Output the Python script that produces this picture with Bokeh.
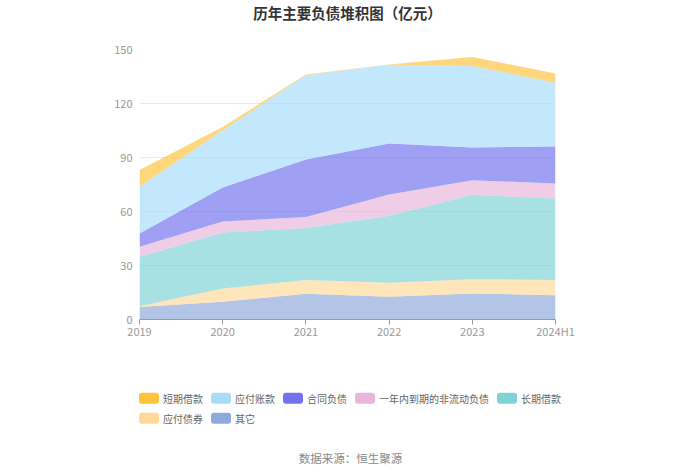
from bokeh.plotting import figure
from bokeh.models import ColumnDataSource, FixedTicker, Label, Range1d
from bokeh.core.properties import value
from bokeh.layouts import column, row
from bokeh.embed import file_html
from bokeh.resources import INLINE

periods = ["2019", "2020", "2021", "2022", "2023", "2024H1"]
# bottom -> top stacking order
other = [7.0, 9.8, 14.3, 12.6, 14.4, 13.5]            # 其它
bonds_payable = [0.3, 7.4, 7.6, 7.8, 8.0, 8.4]        # 应付债券
long_term_loans = [27.5, 31.1, 29.0, 37.2, 46.9, 45.3]  # 长期借款
current_noncurrent = [5.6, 6.1, 6.1, 11.8, 8.1, 8.4]  # 一年内到期的非流动负债
contract_liab = [7.4, 18.9, 31.9, 28.4, 18.2, 20.5]   # 合同负债
accounts_payable = [25.9, 31.9, 46.8, 43.7, 45.3, 35.4]  # 应付账款
short_term_loans = [9.3, 1.8, 0.4, 0.1, 5.0, 5.2]     # 短期借款

y_ticks = [0, 30, 60, 90, 120, 150]

keys = ["other", "bonds", "lt", "cur", "contract", "ap", "st"]
names = ["其它", "应付债券", "长期借款", "一年内到期的非流动负债", "合同负债", "应付账款", "短期借款"]
colors = ["#8eaadc", "#ffd89a", "#7fd3d6", "#e8b6da", "#7272ef", "#a6dcfa", "#fdc33c"]
series = [other, bonds_payable, long_term_loans, current_noncurrent, contract_liab, accounts_payable, short_term_loans]

# legend rows (display order)
legend_rows = [["st", "ap", "contract", "cur", "lt"], ["bonds", "other"]]

data = {"x": list(range(len(periods)))}
for k, s in zip(keys, series):
    data[k] = s
source = ColumnDataSource(data)

FONT = "Noto Sans CJK SC"
W = 692
LEFT, RIGHT = 139, 555   # main frame edges in page pixels


def blank_fig(h):
    f = figure(width=W, height=h, output_backend="svg", toolbar_location=None,
               x_range=Range1d(0, W), y_range=Range1d(h, 0),
               min_border_left=0, min_border_right=0, min_border_top=0, min_border_bottom=0)
    f.axis.visible = False
    f.grid.visible = False
    f.outline_line_color = None
    return f


# ---- title strip ----
top = blank_fig(26)
top.add_layout(Label(x=347, y=11.5, text="历年主要负债堆积图（亿元）",
                     text_font=FONT, text_font_size="14.5px", text_font_style="bold",
                     text_color="#333333", text_align="center", text_baseline="middle"))

# ---- main chart ----
p = figure(width=W, height=319, output_backend="svg", toolbar_location=None,
           x_range=Range1d(0, len(periods) - 1), y_range=Range1d(0, 150),
           min_border_left=LEFT, min_border_right=W - RIGHT, min_border_top=23, min_border_bottom=26)
p.outline_line_color = None
p.background_fill_color = "white"

renderers = p.varea_stack(stackers=keys, x="x", color=colors, fill_alpha=0.68, source=source)

p.xaxis.ticker = FixedTicker(ticks=list(range(len(periods))))
p.xaxis.major_label_overrides = {i: lab for i, lab in enumerate(periods)}
p.xaxis.axis_line_color = "#9a9a9a"
p.xaxis.major_tick_line_color = "#9a9a9a"
p.xaxis.major_tick_out = 5
p.xaxis.major_tick_in = 0
p.xaxis.minor_tick_line_color = None
p.xaxis.major_label_text_color = "#999999"
p.xaxis.major_label_text_font = FONT
p.xaxis.major_label_text_font_size = "11px"
p.xaxis.major_label_standoff = -2

p.yaxis.ticker = FixedTicker(ticks=y_ticks)
p.yaxis.axis_line_color = None
p.yaxis.major_tick_line_color = None
p.yaxis.major_tick_out = 0
p.yaxis.minor_tick_line_color = None
p.yaxis.major_label_text_color = "#999999"
p.yaxis.major_label_text_font = FONT
p.yaxis.major_label_text_font_size = "11px"
p.yaxis.major_label_standoff = 7

p.xgrid.grid_line_color = None
p.ygrid.grid_line_color = "#e9e9e9"
p.ygrid.ticker = FixedTicker(ticks=y_ticks)

# ---- legend + source strip ----
bot = blank_fig(120)
name_of = dict(zip(keys, names))
color_of = dict(zip(keys, colors))

SW, SH, STANDOFF, GAP, CH = 20, 11, 4, 8, 10   # swatch w/h, label standoff, item gap, px per CJK char
sw_x, sw_y, sw_c, lb_x, lb_y, lb_t = [], [], [], [], [], []
row_y = [52.8, 72.8]
for r, row_keys in enumerate(legend_rows):
    x0 = 138.5
    for k in row_keys:
        sw_x.append(x0 + SW / 2)
        sw_y.append(row_y[r])
        sw_c.append(color_of[k])
        lb_x.append(x0 + SW + STANDOFF)
        lb_y.append(row_y[r])
        lb_t.append(name_of[k])
        x0 += SW + STANDOFF + CH * len(name_of[k]) + GAP

bot.rect(x=sw_x, y=sw_y, width=SW, height=SH, fill_color=sw_c, line_color=None, border_radius=3)
bot.text(x=lb_x, y=lb_y, text=lb_t, text_font=value(FONT), text_font_size="10px",
         text_color="#666666", text_align="left", text_baseline="middle")

bot.add_layout(Label(x=350, y=112, text="数据来源：恒生聚源",
                     text_font=FONT, text_font_size="11.5px", text_color="#888888",
                     text_align="center", text_baseline="middle"))

layout = column(row(top), p, row(bot), spacing=0)
open("out.html", "w").write(file_html(layout, INLINE))
